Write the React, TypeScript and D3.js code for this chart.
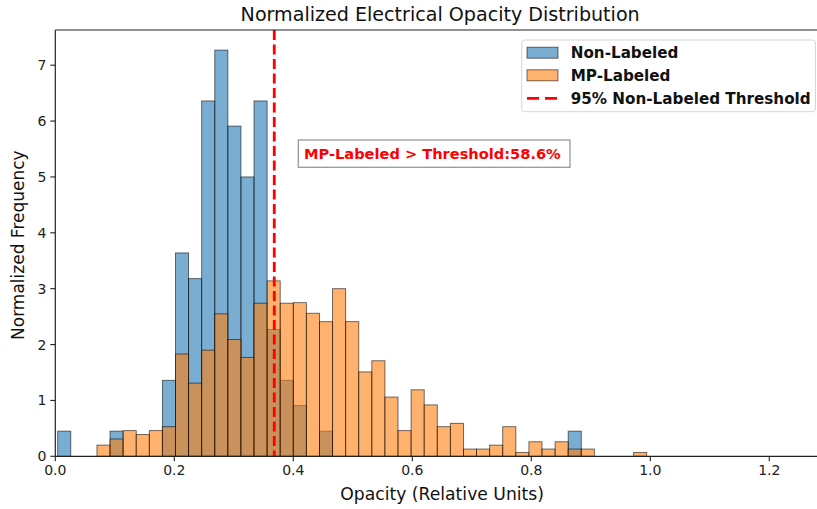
import React from "react";
import * as d3 from "d3";

// ---- data ----
const binStart = 0.004;
const binWidth = 0.022;
const nonLabeled = [
  0.45, 0, 0, 0, 0.45, 0, 0, 0, 1.36, 3.64, 3.18, 6.36, 7.27, 5.91, 5.0, 6.36,
  2.27, 1.36, 0.91, 0, 0.45, 0, 0, 0, 0, 0, 0, 0, 0, 0, 0, 0, 0, 0, 0, 0, 0, 0,
  0, 0.45, 0, 0, 0, 0, 0,
];
const mpLabeled = [
  0, 0, 0, 0.2, 0.31, 0.46, 0.39, 0.46, 0.53, 1.83, 1.31, 1.9, 2.55, 2.09, 1.77,
  2.74, 3.14, 2.74, 2.75, 2.56, 2.41, 3.0, 2.41, 1.51, 1.71, 1.06, 0.46, 1.19,
  0.92, 0.53, 0.59, 0.13, 0.13, 0.2, 0.53, 0.07, 0.26, 0.13, 0.26, 0.13, 0.13, 0,
  0, 0, 0.07,
];
const threshold = 0.368;
const xTicks = [0, 0.2, 0.4, 0.6, 0.8, 1.0, 1.2];
const yTicks = [0, 1, 2, 3, 4, 5, 6, 7];
const xDomain = [0, 1.3];
const yDomain = [0, 7.63];
const title = "Normalized Electrical Opacity Distribution";
const xLabel = "Opacity (Relative Units)";
const yLabel = "Normalized Frequency";
const legendLabels = ["Non-Labeled", "MP-Labeled", "95% Non-Labeled Threshold"];
const annotation = "MP-Labeled > Threshold:58.6%";

const W = 817;
const H = 509;
const left = 55.3;
const top = 30;
const bottom = 456.3;
const right = 828.8;

const BLUE = "#1f77b4";
const ORANGE = "#ff7f0e";
const FONT = "DejaVu Sans";

export default function App() {
  const x = d3.scaleLinear().domain(xDomain).range([left, right]);
  const y = d3.scaleLinear().domain(yDomain).range([bottom, top]);

  const bars = (vals: number[], color: string, key: string) =>
    vals.map((v, i) => {
      if (!v) return null;
      const x0 = x(binStart + i * binWidth);
      const x1 = x(binStart + (i + 1) * binWidth);
      return (
        <rect
          key={key + i}
          x={x0}
          y={y(v)}
          width={x1 - x0}
          height={y(0) - y(v)}
          fill={color}
          fillOpacity={0.6}
          stroke="#000"
          strokeOpacity={0.6}
          strokeWidth={0.9}
        />
      );
    });

  const legX = 521.7;
  const legY = 40;
  const rowY = [52.7, 75.3, 98.3];

  return (
    <svg
      width={W}
      height={H}
      style={{ position: "absolute", left: 0, top: 0, background: "#fff" }}
      fontFamily={FONT}
    >
      <defs>
        <clipPath id="plot">
          <rect x={left} y={top} width={right - left} height={bottom - top} />
        </clipPath>
      </defs>
      <rect x={0} y={0} width={W} height={H} fill="#fff" />
      <g clipPath="url(#plot)">
        {bars(nonLabeled, BLUE, "b")}
        {bars(mpLabeled, ORANGE, "o")}
        <line
          x1={x(threshold)}
          x2={x(threshold)}
          y1={top}
          y2={bottom}
          stroke="#ff0000"
          strokeWidth={2.8}
          strokeDasharray="10,4.5"
        />
      </g>

      {/* spines */}
      <line x1={left} x2={left} y1={top} y2={bottom} stroke="#222" strokeWidth={1.2} />
      <line x1={left} x2={W} y1={bottom} y2={bottom} stroke="#222" strokeWidth={1.2} />
      <line x1={left} x2={W} y1={top} y2={top} stroke="#222" strokeWidth={1.2} />

      {/* x ticks */}
      {xTicks.map((t) => (
        <g key={"xt" + t}>
          <line x1={x(t)} x2={x(t)} y1={bottom} y2={bottom + 5} stroke="#222" strokeWidth={1.1} />
          <text x={x(t)} y={bottom + 19} textAnchor="middle" fontSize={14} fill="#222">
            {d3.format(".1f")(t)}
          </text>
        </g>
      ))}
      {/* y ticks */}
      {yTicks.map((t) => (
        <g key={"yt" + t}>
          <line x1={left - 5} x2={left} y1={y(t)} y2={y(t)} stroke="#222" strokeWidth={1.1} />
          <text x={left - 9} y={y(t) + 5} textAnchor="end" fontSize={14} fill="#222">
            {t}
          </text>
        </g>
      ))}

      <text x={(left + W) / 2 + 4} y={21} textAnchor="middle" fontSize={19.1} fill="#111">
        {title}
      </text>
      <text x={(left + W) / 2 + 6} y={500} textAnchor="middle" fontSize={17.2} fill="#111">
        {xLabel}
      </text>
      <text
        transform={`translate(24, ${(top + bottom) / 2 + 2}) rotate(-90)`}
        textAnchor="middle"
        fontSize={17}
        fill="#111"
      >
        {yLabel}
      </text>

      {/* annotation */}
      <rect x={298.3} y={140} width={271.7} height={27.3} fill="#fff" stroke="#999" strokeWidth={1.3} />
      <text x={304} y={158.8} fontSize={14.6} fontWeight="bold" fill="#ff0000">
        {annotation}
      </text>

      {/* legend */}
      <rect
        x={legX}
        y={legY}
        width={W - legX - 1.5}
        height={71.7}
        rx={3}
        fill="#fff"
        fillOpacity={0.8}
        stroke="#d5d5d5"
        strokeWidth={1}
      />
      <rect x={527} y={rowY[0] - 5.5} width={31} height={11} fill={BLUE} fillOpacity={0.6} stroke="#000" strokeOpacity={0.6} strokeWidth={0.9} />
      <rect x={527} y={rowY[1] - 5.5} width={31} height={11} fill={ORANGE} fillOpacity={0.6} stroke="#000" strokeOpacity={0.6} strokeWidth={0.9} />
      <line x1={527} x2={558} y1={rowY[2]} y2={rowY[2]} stroke="#ff0000" strokeWidth={2.8} strokeDasharray="12,6" />
      {legendLabels.map((l, i) => (
        <text key={l} x={570.7} y={rowY[i] + 5.2} fontSize={15.2} fontWeight="bold" fill="#111">
          {l}
        </text>
      ))}
    </svg>
  );
}
